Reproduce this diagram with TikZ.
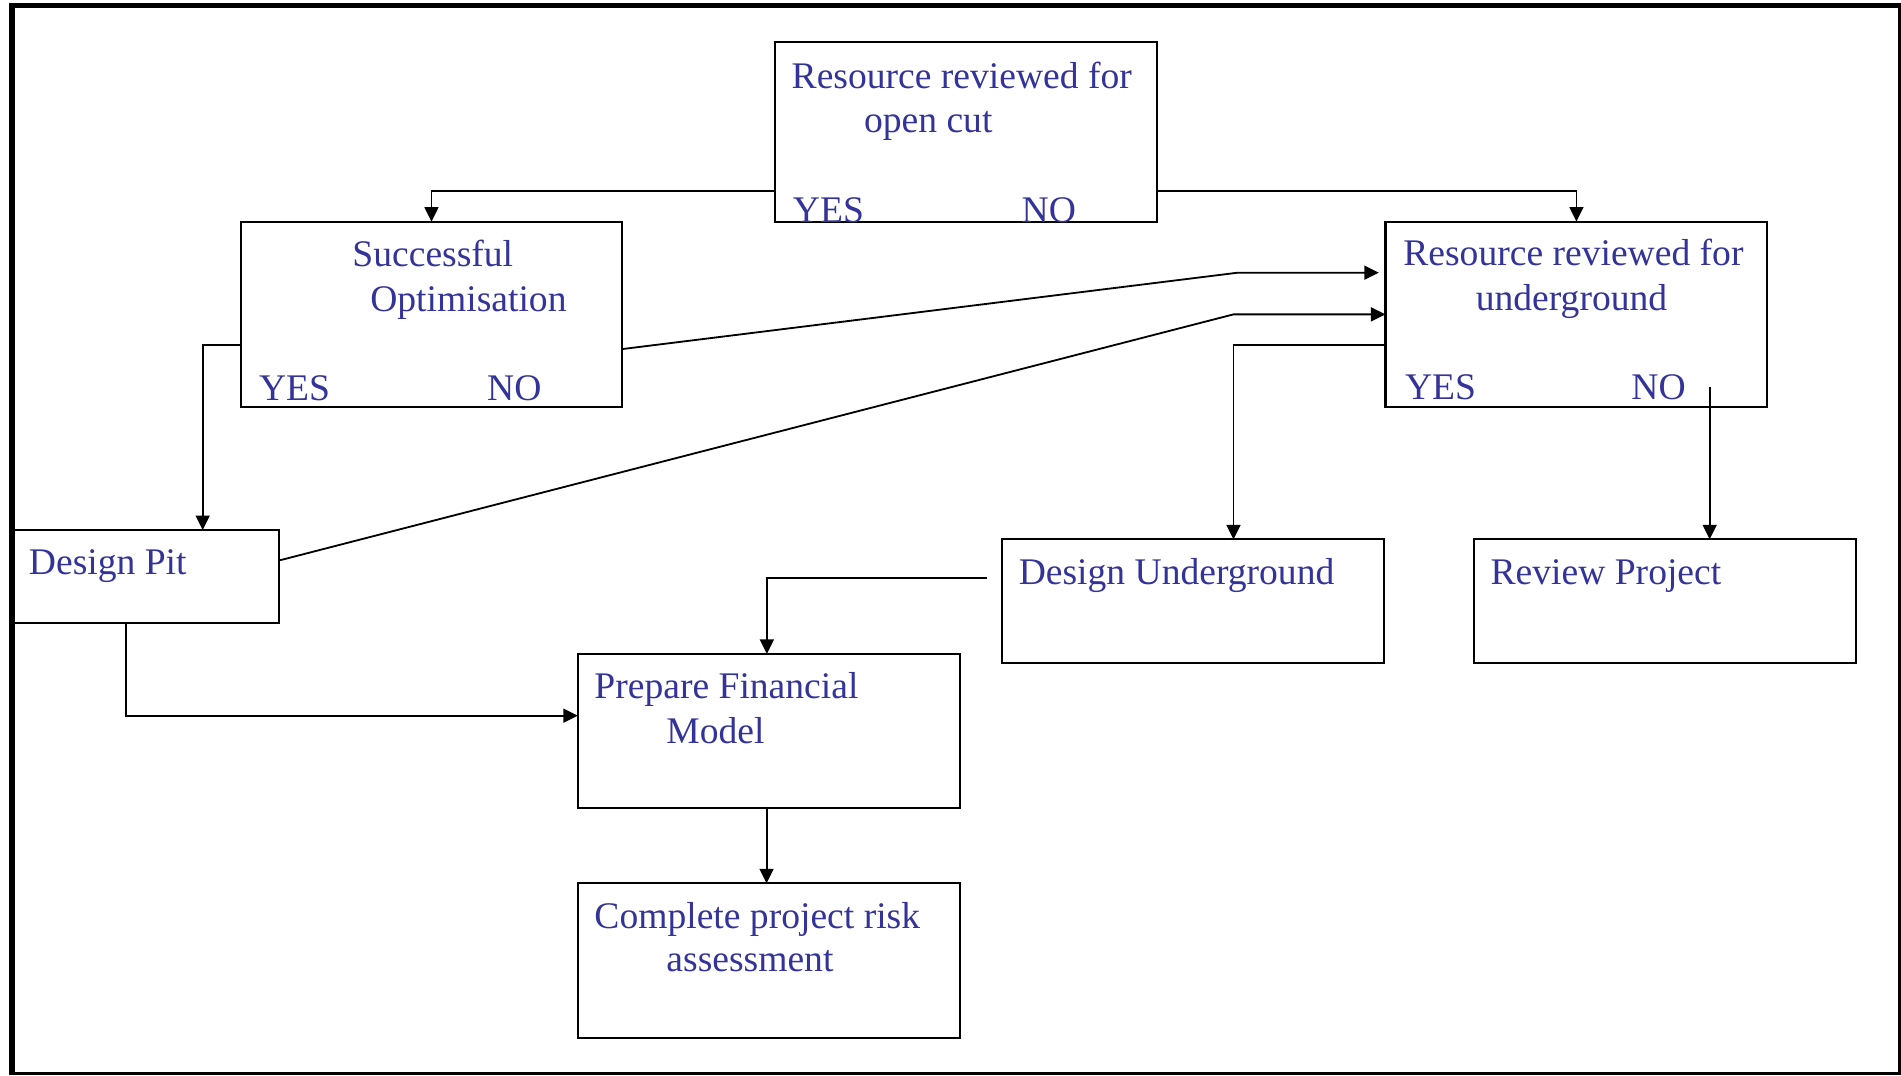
\documentclass[tikz,border=0pt]{standalone}
\usepackage{fontspec}
\setmainfont{Liberation Serif}
\usetikzlibrary{arrows.meta}
\definecolor{txtblue}{RGB}{51,51,153}
\tikzset{
  box/.style={draw=black, line width=1.7pt, inner sep=0pt, outer sep=0pt, anchor=north west, minimum width=315pt},
  conn/.style={draw=black, line width=1.5pt, -{Triangle[length=12pt,width=11.5pt]}},
  lbl/.style={anchor=base west, inner sep=0pt, outer sep=0pt, text=txtblue, font=\fontsize{31}{36}\selectfont}
}
\begin{document}
\begin{tikzpicture}[x=1pt,y=-1pt]
\useasboundingbox (0,0) rectangle (1568,886.7);
% frame
\draw[line width=4.7pt] (9.9,4.6) -- (1568,4.6);
\draw[line width=5pt] (9.9,2.2) -- (9.9,886.7);
\draw[line width=2.4pt] (1566.8,4.6) -- (1566.8,886.7);
\draw[line width=2.4pt] (9.9,885.5) -- (1568,885.5);
% boxes
\node[box, minimum height=147.9pt] (oc) at (639.2,34.9) {};
\node[box, minimum height=152.9pt] (so) at (198.4,182.8) {};
\node[box, minimum height=153.2pt] (ug) at (1142.8,182.8) {};
\node[box, minimum width=220.2pt, minimum height=76.8pt] (dp) at (9.6,437.2) {};
\node[box, minimum height=102.2pt] (du) at (826.8,444.9) {};
\node[box, minimum height=102.2pt] (rp) at (1215.5,444.9) {};
\node[box, minimum height=127.3pt] (pf) at (476.6,539.4) {};
\node[box, minimum height=127.8pt] (cr) at (476.6,728.6) {};
% bend points
\coordinate (l1) at (0,157.5);
\coordinate (a1) at (167.2,284.3);
\coordinate (a2) at (1017.4,284.3);
\coordinate (a3) at (1410.2,318.9);
\coordinate (a4) at (814.2,476.7);
\coordinate (a5) at (632.5,476.7);
\coordinate (a6) at (104.2,590.3);
\coordinate (a7) at (632.3,665.3);
\coordinate (b1) at (513.9,287.9);
\coordinate (b2) at (1021.1,224.9);
\coordinate (b3) at (229.8,462.4);
\coordinate (b4) at (1017.4,259.3);
% connectors
\draw[conn] (oc.west |- l1) -| (so.north);
\draw[conn] (oc.east |- l1) -| (ug.north);
\draw[conn, shorten >=5.5pt] (so.east |- b1) -- (b2) -- (b2 -| ug.west);
\draw[conn] (dp.east |- b3) -- (b4) -- (b4 -| ug.west);
\draw[conn] (so.west |- a1) -- (a1) -- (a1 |- dp.north);
\draw[conn] (ug.west |- a2) -- (a2) -- (a2 |- du.north);
\draw[conn] (a3) -- (a3 |- rp.north);
\draw[conn] (a4) -- (a5) -- (a5 |- pf.north);
\draw[conn] (a6 |- dp.south) -- (a6) -- (a6 -| pf.west);
\draw[conn] (a7) -- (a7 |- cr.north);
% texts
\node[lbl] (t1) at (653,72.6) {Resource reviewed for};
\node[lbl] (t2) at (712.7,109.2) {open cut};
\node[lbl] (t3) at (654,183.2) {YES};
\node[lbl] (t4) at (842.7,183.2) {NO};
\node[lbl] (t5) at (290.7,219.6) {Successful};
\node[lbl] (t6) at (305.4,256.6) {Optimisation};
\node[lbl] (t7) at (213.7,330.5) {YES};
\node[lbl] (t8) at (401.8,330.5) {NO};
\node[lbl] (t9) at (1157.5,219.2) {Resource reviewed for};
\node[lbl] (t10) at (1217.3,256.2) {underground};
\node[lbl] (t11) at (1158.9,329.5) {YES};
\node[lbl] (t12) at (1345.6,329.5) {NO};
\node[lbl] (t13) at (23.9,473.8) {Design Pit};
\node[lbl] (t14) at (840.3,482.4) {Design Underground};
\node[lbl] (t15) at (1229.5,482.4) {Review Project};
\node[lbl] (t16) at (490.3,576.4) {Prepare Financial};
\node[lbl] (t17) at (549.7,613.5) {Model};
\node[lbl] (t18) at (490.3,766.1) {Complete project risk};
\node[lbl] (t19) at (549.7,801.3) {assessment};
\end{tikzpicture}
\end{document}
